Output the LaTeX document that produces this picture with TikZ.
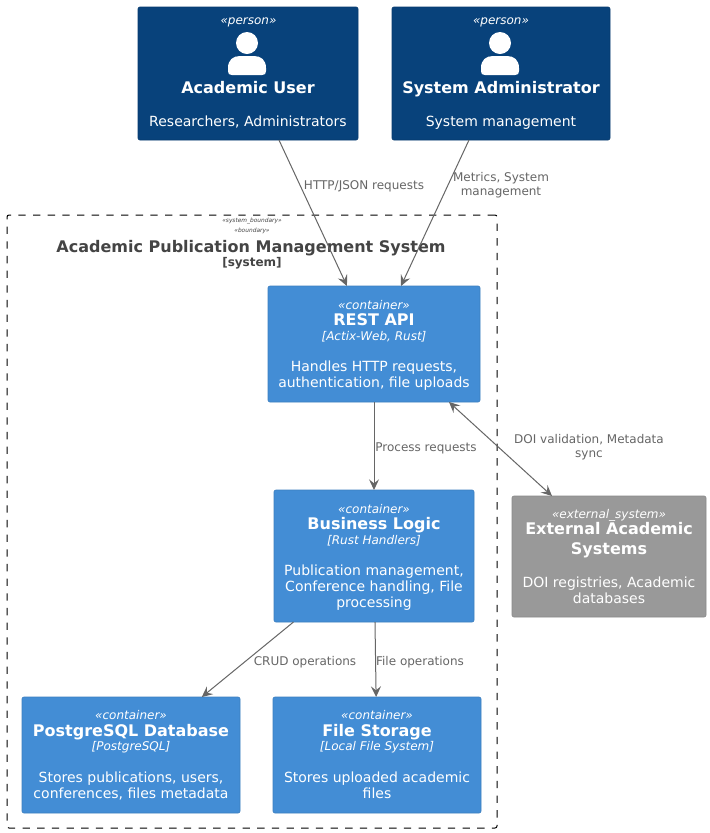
\documentclass[tikz,border=0pt]{standalone}
\usepackage{fontspec}
\setmainfont{DejaVu Sans}
\usetikzlibrary{arrows.meta,calc}
\definecolor{personc}{HTML}{08427B}
\definecolor{personb}{HTML}{073B6F}
\definecolor{contc}{HTML}{438DD5}
\definecolor{contb}{HTML}{3C7FC0}
\definecolor{extc}{HTML}{999999}
\definecolor{extb}{HTML}{8A8A8A}
\definecolor{linec}{HTML}{666666}
\definecolor{titlec}{HTML}{444444}
\newcommand{\stereo}[1]{{\fontsize{9}{11}\selectfont\itshape «#1»}}
\newcommand{\ntitle}[1]{{\fontsize{12}{14.6}\selectfont\bfseries #1}}
\newcommand{\tech}[1]{{\fontsize{9}{11}\selectfont\itshape [#1]}}
\tikzset{
  x=0.75pt,y=-0.75pt,
  box/.style={rounded corners=1.5pt,line width=0.5pt,anchor=north west,inner sep=0pt,outer sep=0pt},
  persona/.style={box,fill=personc,draw=personb},
  contbox/.style={box,fill=contc,draw=contb},
  extbox/.style={box,fill=extc,draw=extb},
  txt/.style={text=white,align=center,font=\fontsize{10.5}{12}\selectfont,inner sep=0pt,anchor=north},
  conn/.style={draw=linec,line width=0.75pt,-{Stealth[length=8pt,width=7.5pt,inset=3pt]}},
  biconn/.style={conn,{Stealth[length=8pt,width=7.5pt,inset=3pt]}-{Stealth[length=8pt,width=7.5pt,inset=3pt]}},
  lbl/.style={text=linec,align=center,font=\fontsize{9}{10.8}\selectfont,inner sep=0pt},
}
\begin{document}
\begin{tikzpicture}
\useasboundingbox (0,0) rectangle (710,833);
\fill[white] (0,0) rectangle (710,833);
% boundary
\node[box,draw=black,dash pattern=on 5.5pt off 5.5pt,line width=0.75pt,rounded corners=1.5pt,minimum width=367.5pt,minimum height=459.75pt] (bnd) at (7,215) {};
\node[inner sep=0pt,text=titlec,font=\fontsize{4.4}{5.5}\selectfont\itshape] (bs1) at (252,221) {«system\_boundary»};
\node[inner sep=0pt,text=titlec,font=\fontsize{4.4}{5.5}\selectfont\itshape] (bs2) at (252,231) {«boundary»};
\node[inner sep=0pt,text=titlec,font=\fontsize{12}{15}\selectfont\bfseries] (bt) at (251,248) {Academic Publication Management System};
\node[inner sep=0pt,text=titlec,font=\fontsize{9}{11}\selectfont\bfseries] (bsys) at (252,263) {[system]};
% boxes
\node[persona,minimum width=165pt,minimum height=99.75pt] (user) at (138,7) {};
\node[persona,minimum width=163.5pt,minimum height=99.75pt] (admin) at (392,7) {};
\node[contbox,minimum width=159pt,minimum height=87pt] (api) at (268,286) {};
\node[contbox,minimum width=150pt,minimum height=99pt] (logic) at (274,490) {};
\node[contbox,minimum width=163.5pt,minimum height=87pt] (pg) at (22,697) {};
\node[contbox,minimum width=156pt,minimum height=87pt] (fs) at (273,697) {};
\node[extbox,minimum width=145.5pt,minimum height=90.75pt] (ext) at (512,496) {};
% person icons
\foreach \cx in {247,500}{
  \fill[white] (\cx,43) circle (8.25pt);
  \fill[white] (\cx-19,71) -- (\cx-19,68) .. controls (\cx-19,60) and (\cx-14,56) .. (\cx-7,56) -- (\cx+7,56) .. controls (\cx+14,56) and (\cx+19,60) .. (\cx+19,68) -- (\cx+19,71) .. controls (\cx+19,74) and (\cx+18,75) .. (\cx+15,75) -- (\cx-15,75) .. controls (\cx-18,75) and (\cx-19,74) .. (\cx-19,71) -- cycle;
}
% person text
\node[txt,text=white,font=\fontsize{9}{11}\selectfont\itshape] (us) at (248.5,18) {«person»};
\node[txt,text=white,font=\fontsize{12}{14}\selectfont\bfseries] (un) at (248,81.5) {Academic User};
\node[txt] (ud) at (248,115.5) {Researchers, Administrators};
\node[txt,text=white,font=\fontsize{9}{11}\selectfont\itshape] (as) at (501,18) {«person»};
\node[txt,text=white,font=\fontsize{12}{14}\selectfont\bfseries] (an) at (501,81.5) {System Administrator};
\node[txt] (ad) at (501,115.5) {System management};
% container text
\node[txt] (apit) at (374,300) {\stereo{container}\\[0.25pt]\ntitle{REST API}\\[-1pt]\tech{Actix-Web, Rust}\\[11.5pt]Handles HTTP requests,\\authentication, file uploads};
\node[txt] (logict) at (374,504) {\stereo{container}\\[0.25pt]\ntitle{Business Logic}\\[-1pt]\tech{Rust Handlers}\\[11.5pt]Publication management,\\Conference handling, File\\processing};
\node[txt] (pgt) at (131,710.5) {\stereo{container}\\[0.25pt]\ntitle{PostgreSQL Database}\\[-1pt]\tech{PostgreSQL}\\[11.5pt]Stores publications, users,\\conferences, files metadata};
\node[txt] (fst) at (377,710.5) {\stereo{container}\\[0.25pt]\ntitle{File Storage}\\[-1pt]\tech{Local File System}\\[11.5pt]Stores uploaded academic\\files};
\node[txt] (extt) at (609,509) {\stereo{external\_system}\\[0.25pt]\ntitle{External Academic}\\[3pt]\ntitle{Systems}\\[12.5pt]DOI registries, Academic\\databases};
% connectors
\draw[conn] (user) -- (api);
\draw[conn] ($(admin.south west)+(77,0)$) -- ($(api.north west)+(133,0)$);
\draw[conn] (api) -- (logic);
\draw[biconn] ($(api.south east)+(-31,0)$) -- ($(ext.north west)+(40,0)$);
\draw[conn] (logic) -- (pg);
\draw[conn] (logic) -- (fs);
% labels
\node[lbl] (l1) at (364,186) {HTTP/JSON requests};
\node[lbl] (l2) at (501,185) {Metrics, System\\management};
\node[lbl] (l3) at (426,448) {Process requests};
\node[lbl] (l4) at (589,447) {DOI validation, Metadata\\sync};
\node[lbl] (l5) at (305,662) {CRUD operations};
\node[lbl] (l6) at (420,662) {File operations};
\end{tikzpicture}
\end{document}
